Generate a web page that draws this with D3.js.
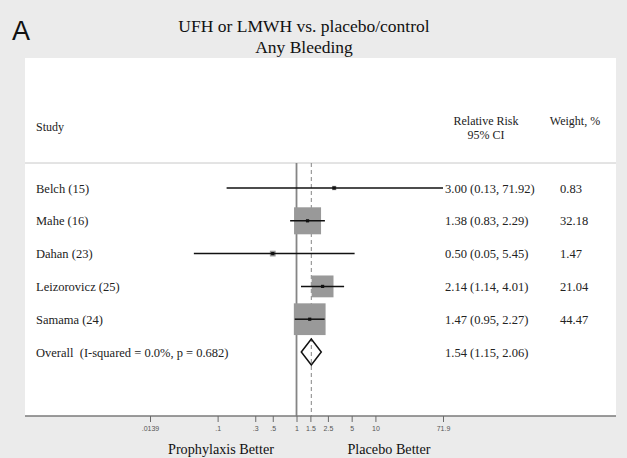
<!DOCTYPE html>
<html>
<head>
<meta charset="utf-8">
<script src="https://cdn.jsdelivr.net/npm/d3@7/dist/d3.min.js"></script>
<style>
  html, body { margin: 0; padding: 0; background: #ebebeb; }
  svg { display: block; }
  text { white-space: pre; }
</style>
</head>
<body>
<svg id="chart" width="627" height="458"></svg>
<script>
// ---- data ----
const studies = ["Belch (15)", "Mahe (16)", "Dahan (23)", "Leizorovicz (25)", "Samama (24)"];
const rr = [3.00, 1.38, 0.50, 2.14, 1.47];
const ciLow = [0.13, 0.83, 0.05, 1.14, 0.95];
const ciHigh = [71.92, 2.29, 5.45, 4.01, 2.27];
const weights = [0.83, 32.18, 1.47, 21.04, 44.47];
const overallLabel = "Overall  (I-squared = 0.0%, p = 0.682)";
const overallRR = 1.54, overallLow = 1.15, overallHigh = 2.06;
const tickValues = [0.0139, 0.1, 0.3, 0.5, 1, 1.5, 2.5, 5, 10, 71.9];
const tickLabels = [".0139", ".1", ".3", ".5", "1", "1.5", "2.5", "5", "10", "71.9"];

const fmt = d3.format(".2f");
const rows = studies.map((s, i) => ({ label: s, rr: rr[i], lo: ciLow[i], hi: ciHigh[i], w: weights[i] }));

const svg = d3.select("#chart");
const serif = "'Liberation Serif', 'Times New Roman', serif";
const sans = "'Liberation Sans', Arial, sans-serif";

// panel
const panel = { x0: 25, x1: 616, y0: 58, y1: 416, sep: 163 };
svg.append("rect").attr("x", 0).attr("y", 0).attr("width", 627).attr("height", 458).attr("fill", "#ebebeb");
svg.append("rect").attr("x", panel.x0).attr("y", panel.y0)
  .attr("width", panel.x1 - panel.x0).attr("height", panel.y1 - panel.y0).attr("fill", "#ffffff");

// scales
const x = d3.scaleLog().domain([tickValues[0], tickValues[tickValues.length - 1]]).range([150, 443]);
const y = d3.scalePoint().domain(d3.range(studies.length + 1)).range([188, 352]);
const boxScale = d3.scaleSqrt().domain([0, 100]).range([0, 47.6]);

// titles
svg.append("text").attr("x", 12).attr("y", 40).attr("font-family", sans).attr("font-size", 27)
  .attr("fill", "#111").text("A");
svg.append("text").attr("x", 304).attr("y", 32).attr("text-anchor", "middle")
  .attr("font-family", serif).attr("font-size", 17.5).attr("fill", "#111")
  .text("UFH or LMWH vs. placebo/control");
svg.append("text").attr("x", 304).attr("y", 53).attr("text-anchor", "middle")
  .attr("font-family", serif).attr("font-size", 17.5).attr("fill", "#111")
  .text("Any Bleeding");

// headers
const hdr = svg.append("g").attr("font-family", serif).attr("font-size", 12).attr("fill", "#222");
hdr.append("text").attr("x", 36).attr("y", 131).text("Study");
hdr.append("text").attr("x", 486).attr("y", 125).attr("text-anchor", "middle").text("Relative Risk");
hdr.append("text").attr("x", 486).attr("y", 139).attr("text-anchor", "middle").text("95% CI");
hdr.append("text").attr("x", 575).attr("y", 125).attr("text-anchor", "middle").text("Weight, %");

// separator
svg.append("line").attr("x1", panel.x0).attr("x2", panel.x1).attr("y1", panel.sep).attr("y2", panel.sep)
  .attr("stroke", "#c8c8c8").attr("stroke-width", 1);

// reference lines
svg.append("line").attr("x1", x(1)).attr("x2", x(1)).attr("y1", panel.sep).attr("y2", panel.y1)
  .attr("stroke", "#858585").attr("stroke-width", 1.8);
svg.append("line").attr("x1", x(overallRR)).attr("x2", x(overallRR)).attr("y1", panel.sep).attr("y2", panel.y1)
  .attr("stroke", "#858585").attr("stroke-width", 1).attr("stroke-dasharray", "4,3");

// study rows
const g = svg.append("g");
rows.forEach((d, i) => {
  const cy = y(i);
  const s = boxScale(d.w);
  g.append("rect").attr("x", x(d.rr) - s / 2).attr("y", cy - s / 2).attr("width", s).attr("height", s)
    .attr("fill", "#999999");
  g.append("line").attr("x1", x(d.lo)).attr("x2", x(d.hi)).attr("y1", cy).attr("y2", cy)
    .attr("stroke", "#111").attr("stroke-width", 1.5);
  g.append("rect").attr("x", x(d.rr) - 1.6).attr("y", cy - 1.6).attr("width", 3.2).attr("height", 3.2)
    .attr("fill", "#111");
});

// overall diamond
const oy = y(studies.length);
g.append("path")
  .attr("d", `M${x(overallLow)},${oy} L${x(overallRR)},${oy - 13} L${x(overallHigh)},${oy} L${x(overallRR)},${oy + 13} Z`)
  .attr("fill", "none").attr("stroke", "#111").attr("stroke-width", 1.5);

// row texts
const t = svg.append("g").attr("font-family", serif).attr("font-size", 12.5).attr("fill", "#222");
rows.forEach((d, i) => {
  const cy = y(i) + 4.5;
  t.append("text").attr("x", 36).attr("y", cy).text(d.label);
  t.append("text").attr("x", 445).attr("y", cy).text(`${fmt(d.rr)} (${fmt(d.lo)}, ${fmt(d.hi)})`);
  t.append("text").attr("x", 560).attr("y", cy).text(fmt(d.w));
});
t.append("text").attr("x", 36).attr("y", oy + 4.5).text(overallLabel);
t.append("text").attr("x", 445).attr("y", oy + 4.5)
  .text(`${fmt(overallRR)} (${fmt(overallLow)}, ${fmt(overallHigh)})`);

// axis
svg.append("line").attr("x1", panel.x0).attr("x2", panel.x1).attr("y1", panel.y1).attr("y2", panel.y1)
  .attr("stroke", "#7a7a7a").attr("stroke-width", 1.5);
const axis = d3.axisBottom(x).tickValues(tickValues).tickFormat((d, i) => tickLabels[i]).tickSize(6).tickPadding(4);
const ag = svg.append("g").attr("transform", `translate(0,${panel.y1})`).call(axis);
ag.select(".domain").remove();
ag.selectAll(".tick line").attr("stroke", "#6a6a6a").attr("stroke-width", 1);
ag.selectAll(".tick text").attr("font-family", sans).attr("font-size", 7).attr("fill", "#555");

// bottom captions
svg.append("text").attr("x", 221).attr("y", 454).attr("text-anchor", "middle")
  .attr("font-family", serif).attr("font-size", 14.2).attr("fill", "#111").text("Prophylaxis Better");
svg.append("text").attr("x", 389).attr("y", 454).attr("text-anchor", "middle")
  .attr("font-family", serif).attr("font-size", 14.2).attr("fill", "#111").text("Placebo Better");
</script>
</body>
</html>
